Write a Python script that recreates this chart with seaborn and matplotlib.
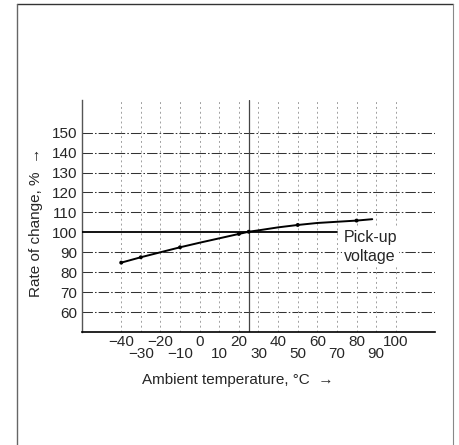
import matplotlib
matplotlib.use("Agg")
import matplotlib.pyplot as plt
from matplotlib.lines import Line2D
import seaborn as sns
import pandas as pd

# ---- data ----
temperature = [-40, -30, -20, -10, 0, 10, 20, 25, 30, 40, 50, 60, 70, 80, 88]
rate = [84.8, 87.5, 90.0, 92.5, 94.8, 97.0, 99.2, 100.3, 101.0, 102.5, 103.7, 104.7, 105.3, 105.9, 106.6]
marker_temps = [-40, -30, -10, 20, 25, 50, 80]
y_ticks = [60, 70, 80, 90, 100, 110, 120, 130, 140, 150]
x_ticks_upper = [-40, -20, 0, 20, 40, 60, 80, 100]
x_ticks_lower = [-30, -10, 10, 30, 50, 70, 90]
ref_temp = 25
ref_rate = 100
label_text = "Pick-up\nvoltage"
x_label = "Ambient temperature, °C  →"
y_label = "Rate of change, %  →"

sns.set_style("white")
plt.rcParams["font.family"] = ["Liberation Sans", "DejaVu Sans"]
plt.rcParams["font.size"] = 11

W, H = 460, 445
fig = plt.figure(figsize=(W / 100, H / 100), dpi=100)
ax = fig.add_axes([82 / W, 1 - 332 / H, (435 - 82) / W, (332 - 100) / H])

ax.set_xlim(-60, 120)
ax.set_ylim(50, 166.4)

# grid lines
for y in y_ticks:
    if y == ref_rate:
        continue
    ax.axhline(y, color="#333333", lw=0.75, dashes=(10, 2, 1.5, 2), zorder=1)
for x in x_ticks_upper + x_ticks_lower:
    ax.axvline(x, color="#a0a0a0", lw=0.7, dashes=(2, 3), zorder=1)
ax.axvline(ref_temp, color="#444444", lw=0.9, zorder=2)
ax.plot([-60, 70], [ref_rate, ref_rate], color="black", lw=1.3, zorder=3)

# curve
df = pd.DataFrame({"t": temperature, "r": rate})
sns.lineplot(data=df, x="t", y="r", ax=ax, color="black", lw=1.4, zorder=4)
dm = df[df["t"].isin(marker_temps)]
sns.scatterplot(data=dm, x="t", y="r", ax=ax, color="black", s=8, zorder=5, edgecolor="none")

ax.text(73.5, 101.0, label_text, ha="left", va="top", fontsize=11.5, linespacing=1.3,
        bbox=dict(facecolor="white", edgecolor="none", pad=1.5), zorder=6)

# axes styling
for s in ["top", "right"]:
    ax.spines[s].set_visible(False)
ax.spines["left"].set_color("#555555")
ax.spines["left"].set_linewidth(1.0)
ax.spines["bottom"].set_color("black")
ax.spines["bottom"].set_linewidth(1.2)

ax.set_yticks(y_ticks)
ax.set_yticklabels([str(v) for v in y_ticks])
ax.set_xticks(x_ticks_upper)
ax.set_xticklabels([str(v).replace("-", "−") for v in x_ticks_upper])
ax.set_xticks(x_ticks_lower, minor=True)
ax.set_xticklabels([str(v).replace("-", "−") for v in x_ticks_lower], minor=True)
ax.tick_params(axis="x", which="major", length=0, pad=2.5, labelsize=11)
ax.tick_params(axis="x", which="minor", length=0, pad=11, labelsize=11)
ax.tick_params(axis="y", length=0, pad=3.5, labelsize=11)

ax.set_xlabel(x_label, fontsize=11)
ax.set_ylabel(y_label, fontsize=11)
ax.xaxis.set_label_coords((238 - 82) / (435 - 82), -(373 - 332) / (332 - 100))
ax.yaxis.set_label_coords((43 - 82) / (435 - 82), (332 - 222) / (332 - 100))

# outer frame
fx0, fx1, fy1 = 17 / W, 453 / W, 1 - 4 / H
fig.add_artist(Line2D([fx0, fx1], [fy1, fy1], color="#333333", lw=1.0))
fig.add_artist(Line2D([fx0, fx0], [0, fy1], color="#666666", lw=1.0))
fig.add_artist(Line2D([fx1, fx1], [0, fy1], color="#888888", lw=0.8))

fig.savefig("out.png", dpi=100)
